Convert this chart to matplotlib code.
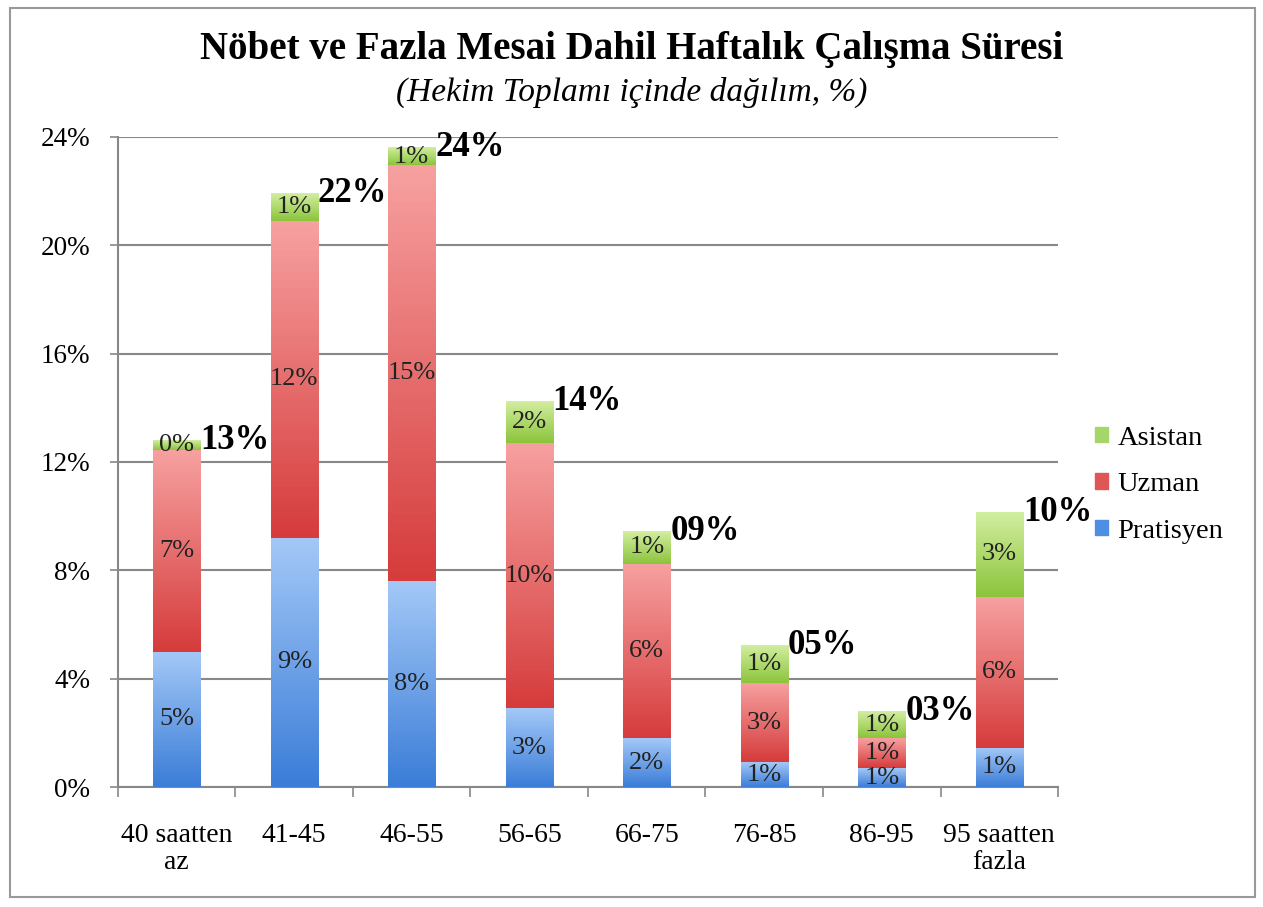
import matplotlib.pyplot as plt
import numpy as np
from matplotlib.colors import LinearSegmentedColormap
from matplotlib.patches import Patch, Rectangle

plt.rcParams['font.family'] = ['Liberation Serif', 'DejaVu Serif']

categories = ['40 saatten\naz', '41-45', '46-55', '56-65', '66-75', '76-85', '86-95', '95 saatten\nfazla']
pratisyen = [5.0, 9.2, 7.6, 2.9, 1.8, 0.92, 0.7, 1.45]
uzman = [7.45, 11.7, 15.35, 9.8, 6.45, 2.92, 1.1, 5.57]
asistan = [0.35, 1.0, 0.65, 1.52, 1.2, 1.4, 0.97, 3.13]

series = [('Pratisyen', pratisyen, '#3b7dd8', '#a3c8f7', '#4f8fe3'),
          ('Uzman', uzman, '#d63c3c', '#f7a0a0', '#e05555'),
          ('Asistan', asistan, '#8cc43c', '#d2eea0', '#a6d66a')]

fig = plt.figure(figsize=(12.63, 9.07), dpi=100)
ax = fig.add_axes([0.0934, 0.1323, 0.7443, 0.7167])

x = np.arange(len(categories))
bottom = np.zeros(len(categories))
grad = np.linspace(0, 1, 100).reshape(-1, 1)
for name, vals, dark, light, _ in series:
    bars = ax.bar(x, vals, 0.4, bottom=bottom, color=dark, zorder=2)
    cmap = LinearSegmentedColormap.from_list(name, [dark, light])
    for b, v in zip(bars, vals):
        x0, y0, w, h = b.get_x(), b.get_y(), b.get_width(), b.get_height()
        ax.imshow(grad, cmap=cmap, extent=(x0, x0 + w, y0, y0 + h),
                  origin='lower', aspect='auto', zorder=3)
        ax.text(x0 + w / 2, y0 + h / 2, '%.0f%%' % v, ha='center', va='center',
                fontsize=19, color='#222222', zorder=4)
    bottom += np.array(vals)

for xi, t in zip(x, bottom):
    ax.text(xi + 0.2, t, '%02.0f%%' % t, ha='left', va='center',
            fontsize=25, fontweight='bold', zorder=4)

ax.set_xlim(-0.5, len(categories) - 0.5)
ax.set_ylim(0, 24)
ax.set_yticks(np.arange(0, 25, 4))
ax.set_yticklabels(['%d%%' % v for v in range(0, 25, 4)], fontsize=19.5)
ax.set_xticks(x)
ax.set_xticklabels(categories, fontsize=20, linespacing=1.1)
ax.set_xticks(np.arange(-0.5, len(categories)), minor=True)
ax.tick_params(axis='x', which='major', length=0, pad=26)
ax.tick_params(axis='x', which='minor', length=7, color='#888888', width=1.2)
ax.tick_params(axis='y', length=6, color='#888888', width=1.2, pad=14)
ax.yaxis.grid(True, color='#888888', linewidth=1.5, zorder=0)
ax.set_axisbelow(True)
for s in ['top', 'right']:
    ax.spines[s].set_visible(False)
for s in ['left', 'bottom']:
    ax.spines[s].set_color('#888888')
    ax.spines[s].set_linewidth(1.5)

handles = [Patch(color=leg, label=name) for name, _, _, _, leg in series][::-1]
ax.legend(handles=handles, loc='center left', bbox_to_anchor=(1.027, 0.465),
          frameon=False, fontsize=20.5, handlelength=0.45, handleheight=0.45,
          handletextpad=0.35, labelspacing=0.75, borderaxespad=0)

fig.text(0.5, 0.945, 'Nöbet ve Fazla Mesai Dahil Haftalık Çalışma Süresi',
         ha='center', va='center', fontsize=28, fontweight='bold')
fig.text(0.5, 0.898, '(Hekim Toplamı içinde dağılım, %)',
         ha='center', va='center', fontsize=24, style='italic')

fig.patches.append(Rectangle((0.008, 0.011), 0.986, 0.98, transform=fig.transFigure,
                             fill=False, edgecolor='#999999', linewidth=1.5))

fig.savefig('out.png', dpi=100)
